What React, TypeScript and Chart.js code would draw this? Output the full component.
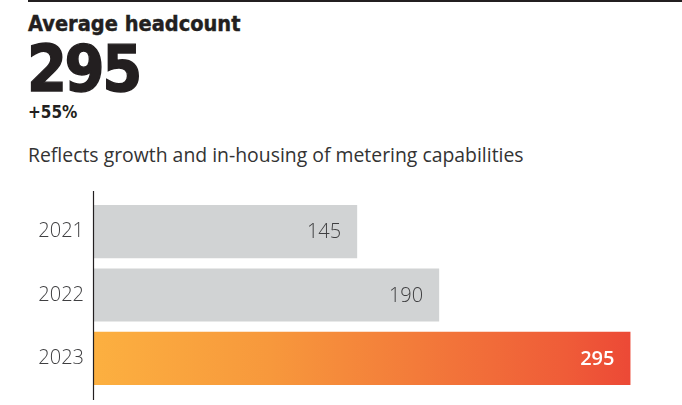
import React, { useEffect, useRef } from "react";
import { Chart, registerables } from "chart.js";

Chart.register(...registerables);

const categories: string[] = ["2021", "2022", "2023"];
const headcount: number[] = [145, 190, 295];
const valueLabels: string[] = ["145", "190", "295"];
const titleText = "Average headcount";
const bigNumber = "295";
const changeText = "+55%";
const subtitleText = "Reflects growth and in-housing of metering capabilities";

const GRAY = "#D1D3D4";
const DARK = "#231F20";

export default function App() {
  const ref = useRef<HTMLCanvasElement>(null);

  useEffect(() => {
    document.body.style.margin = "0";
    const canvas = ref.current;
    if (!canvas) return;

    const gradientFor = (chart: any, i: number) => {
      if (i !== headcount.length - 1) return GRAY;
      const ca = chart.chartArea;
      if (!ca) return "#F58A3A";
      const xs = chart.scales.x;
      const x0 = xs.getPixelForValue(0);
      const x1 = xs.getPixelForValue(headcount[i]);
      const g = chart.ctx.createLinearGradient(x0, 0, x1, 0);
      g.addColorStop(0, "#FCB040");
      g.addColorStop(0.33, "#F7983C");
      g.addColorStop(0.6, "#F37B3A");
      g.addColorStop(0.88, "#EF5C38");
      g.addColorStop(1, "#EC4936");
      return g;
    };

    const decor = {
      id: "decor",
      afterDatasetsDraw(chart: any) {
        const { ctx, chartArea } = chart;
        ctx.save();
        ctx.strokeStyle = DARK;
        ctx.lineWidth = 1.2;
        ctx.beginPath();
        ctx.moveTo(chartArea.left + 0.5, chartArea.top - 9);
        ctx.lineTo(chartArea.left + 0.5, chartArea.bottom + 10);
        ctx.stroke();
        const meta = chart.getDatasetMeta(0);
        meta.data.forEach((bar: any, i: number) => {
          const last = i === headcount.length - 1;
          ctx.font = `${last ? 600 : 300} 20px "Open Sans"`;
          ctx.fillStyle = last ? "#FFFFFF" : "#3F3F41";
          ctx.textAlign = "right";
          ctx.textBaseline = "middle";
          ctx.fillText(valueLabels[i], bar.x - 16, bar.y + 1);
        });
        ctx.restore();
      },
    };

    const chart = new Chart(canvas, {
      type: "bar",
      data: {
        labels: categories,
        datasets: [
          {
            data: headcount,
            backgroundColor: (c: any) => gradientFor(c.chart, c.dataIndex),
            borderWidth: 0,
            barPercentage: 0.84,
            categoryPercentage: 1,
          },
        ],
      },
      options: {
        indexAxis: "y",
        animation: false,
        responsive: false,
        maintainAspectRatio: false,
        layout: { padding: { top: 15, bottom: 15, left: 0, right: 6 } },
        plugins: { legend: { display: false }, tooltip: { enabled: false } },
        scales: {
          x: { display: false, min: 0, max: 320 },
          y: {
            grid: { display: false, drawTicks: false },
            border: { display: false },
            ticks: {
              padding: 9,
              color: "#3F3F41",
              font: { family: "Open Sans", size: 20, weight: 300 },
            },
            afterFit: (axis: any) => {
              axis.width = 93;
              axis.paddingTop = 0;
              axis.paddingBottom = 0;
            },
          },
        },
      },
      plugins: [decor],
    });
    return () => chart.destroy();
  }, []);

  return (
    <div style={{ position: "relative", width: 682, height: 405, background: "#fff", overflow: "hidden" }}>
      <div style={{ position: "absolute", left: 28, top: 0, width: 654, height: 2, background: DARK }} />
      <div
        style={{
          position: "absolute",
          left: 28,
          top: 9,
          fontFamily: '"DejaVu Sans Condensed", "DejaVu Sans"',
          fontWeight: 700,
          fontSize: 21.6,
          color: DARK,
          lineHeight: "30px",
          whiteSpace: "nowrap",
          WebkitTextStroke: "0.4px #231F20",
        }}
      >
        {titleText}
      </div>
      <div
        style={{
          position: "absolute",
          left: 27,
          top: 33,
          fontFamily: '"DejaVu Sans Condensed", "DejaVu Sans"',
          fontWeight: 700,
          fontSize: 64,
          color: DARK,
          lineHeight: "72px",
          letterSpacing: -2.5,
          whiteSpace: "nowrap",
          WebkitTextStroke: "1.4px #231F20",
        }}
      >
        {bigNumber}
      </div>
      <div
        style={{
          position: "absolute",
          left: 28,
          top: 100,
          fontFamily: '"DejaVu Sans Condensed", "DejaVu Sans"',
          fontWeight: 700,
          fontSize: 17,
          color: DARK,
          lineHeight: "24px",
          whiteSpace: "nowrap",
        }}
      >
        {changeText}
      </div>
      <div
        style={{
          position: "absolute",
          left: 28,
          top: 141,
          fontFamily: '"Open Sans"',
          fontSize: 19.4,
          color: "#333",
          lineHeight: "28px",
          whiteSpace: "nowrap",
        }}
      >
        {subtitleText}
      </div>
      <canvas ref={ref} width={682} height={220} style={{ position: "absolute", left: 0, top: 185, width: 682, height: 220 }} />
    </div>
  );
}
